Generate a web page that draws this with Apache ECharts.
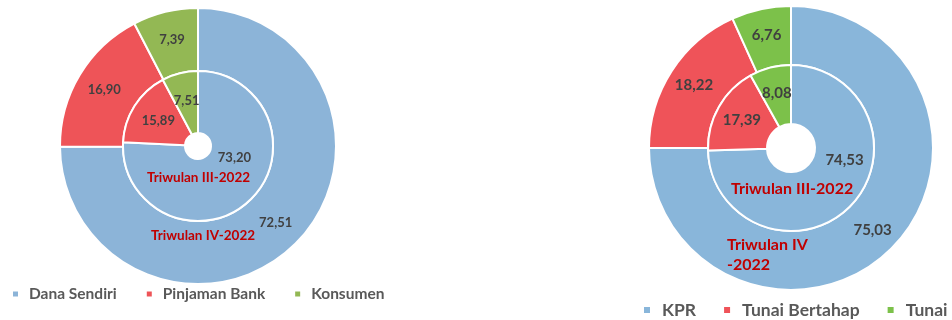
<!DOCTYPE html>
<html><head><meta charset="utf-8">
<script src="https://cdn.jsdelivr.net/npm/echarts@6/dist/echarts.min.js"></script>
<style>html,body{margin:0;padding:0;background:#fff}#c{width:952px;height:320px}</style>
</head><body><div id="c"></div>
<script>
// Left chart: sumber pembiayaan (source of financing)
const leftCats = ['Dana Sendiri', 'Pinjaman Bank', 'Konsumen'];
const leftInnerQ3 = [73.20, 15.89, 7.51];   // Triwulan III-2022
const leftOuterQ4 = [72.51, 16.90, 7.39];   // Triwulan IV-2022
// Right chart: cara pembayaran (payment method)
const rightCats = ['KPR', 'Tunai Bertahap', 'Tunai'];
const rightInnerQ3 = [74.53, 17.39, 8.08];  // Triwulan III-2022
const rightOuterQ4 = [75.03, 18.22, 6.76];  // Triwulan IV-2022

const leftColors = ['#8CB4D8', '#EE5458', '#93B854'];
const rightColors = ['#89B6DA', '#EF5359', '#7CC14A'];
const FONT = 'Lato';

const fmt = p => p.value.toFixed(2).replace('.', ',');

function buildData(cats, vals, colors, offsets) {
  return cats.map((c, i) => {
    const d = { name: c, value: vals[i], itemStyle: { color: colors[i] } };
    if (offsets && offsets[i]) d.label = { offset: offsets[i] };
    return d;
  });
}

function ring(id, center, radius, cats, vals, colors, fontSize, offsets) {
  return {
    type: 'pie', id: id, center: center, radius: radius,
    startAngle: 90, clockwise: true, silent: true, animation: false,
    avoidLabelOverlap: false,
    itemStyle: { borderColor: '#fff', borderWidth: 2 },
    label: {
      show: true, position: 'inside', formatter: fmt,
      color: '#404040', fontFamily: FONT, fontWeight: 'bold', fontSize: fontSize
    },
    labelLine: { show: false },
    emphasis: { disabled: true },
    data: buildData(cats, vals, colors, offsets)
  };
}

const chart = echarts.init(document.getElementById('c'), null, { renderer: 'canvas' });
chart.setOption({
  animation: false,
  backgroundColor: '#fff',
  legend: [
    {
      data: leftCats, left: 11, top: 286, orient: 'horizontal',
      icon: 'rect', itemWidth: 7, itemHeight: 7, itemGap: 28, padding: 0,
      selectedMode: false,
      textStyle: { color: '#595959', fontFamily: FONT, fontWeight: 'bold', fontSize: 15.5, padding: [0, 0, 0, 5] }
    },
    {
      data: rightCats, left: 642, top: 301, orient: 'horizontal',
      icon: 'rect', itemWidth: 8, itemHeight: 8, itemGap: 26, padding: 0,
      selectedMode: false,
      textStyle: { color: '#595959', fontFamily: FONT, fontWeight: 'bold', fontSize: 17.5, padding: [0, 0, 0, 6] }
    }
  ],
  series: [
    ring('lo', [198, 146], [75, 138], leftCats, leftOuterQ4, leftColors, 13),
    ring('li', [198, 146], [13, 75], leftCats, leftInnerQ3, leftColors, 13, [[4, -22]]),
    ring('ro', [791, 148], [83, 142], rightCats, rightOuterQ4, rightColors, 15),
    ring('ri', [791, 148], [24, 83], rightCats, rightInnerQ3, rightColors, 15, [[13, -27]])
  ],
  graphic: [
    { type: 'text', z: 100, left: 147, top: 171, style: { text: 'Triwulan III-2022', fill: '#C00000', font: 'bold 13.5px Lato' } },
    { type: 'text', z: 100, left: 151, top: 229, style: { text: 'Triwulan IV-2022', fill: '#C00000', font: 'bold 13.5px Lato' } },
    { type: 'text', z: 100, left: 731, top: 181, style: { text: 'Triwulan III-2022', fill: '#C00000', font: 'bold 16px Lato' } },
    { type: 'text', z: 100, left: 727, top: 235, style: { text: 'Triwulan IV\n-2022', fill: '#C00000', font: 'bold 16px Lato', lineHeight: 20 } }
  ]
});
</script>
</body></html>
